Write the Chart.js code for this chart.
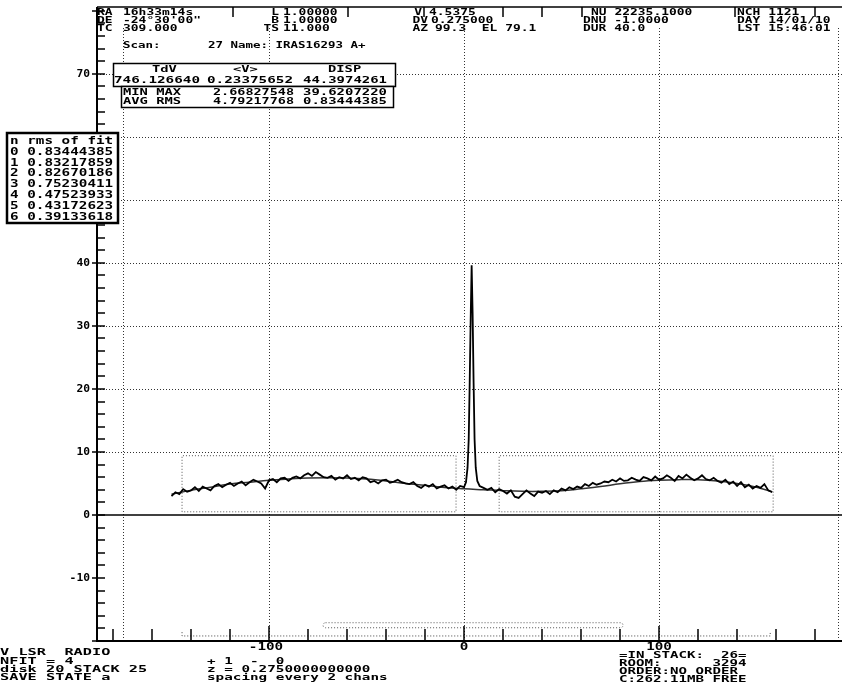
<!DOCTYPE html>
<html>
<head>
  <script src="https://cdn.jsdelivr.net/npm/chart.js@4.4.1/dist/chart.umd.min.js"></script>
  <style>
    body { margin: 0; background: #fff; }
  </style>
</head>
<body>
  <canvas id="myChart" width="842" height="695"></canvas>
  <script type="text/javascript">
    // spectrum, channels (km/s, K)
    var specVel = [-150, -148, -146, -144, -142, -140, -138, -136, -134, -132, -130, -128, -126, -124, -122, -120,
      -118, -116, -114, -112, -110, -108, -106, -104, -102, -100, -98, -96, -94, -92, -90, -88, -86, -84, -82, -80,
      -78, -76, -74, -72, -70, -68, -66, -64, -62, -60, -58, -56, -54, -52, -50, -48, -46, -44, -42, -40, -38, -36,
      -34, -32, -30, -28, -26, -24, -22, -20, -18, -16, -14, -12, -10, -8, -6, -4, -2, 0,
      1.0, 1.8, 2.4, 2.9, 3.4, 3.9, 4.4, 4.9, 5.4, 6.0, 6.8,
      8, 10, 12, 14, 16, 18, 20, 22, 24, 26, 28, 30, 32, 34, 36, 38, 40, 42, 44, 46, 48, 50, 52, 54, 56, 58, 60,
      62, 64, 66, 68, 70, 72, 74, 76, 78, 80, 82, 84, 86, 88, 90, 92, 94, 96, 98, 100, 102, 104, 106, 108, 110,
      112, 114, 116, 118, 120, 122, 124, 126, 128, 130, 132, 134, 136, 138, 140, 142, 144, 146, 148, 150, 152,
      154, 156, 158];
    var specTa = [3.0, 3.6, 3.3, 4.1, 3.7, 3.9, 4.4, 3.8, 4.5, 4.2, 3.9, 4.6, 4.9, 4.4, 4.8, 5.1,
      4.6, 5.0, 5.3, 4.7, 5.2, 5.6, 5.3, 5.0, 4.2, 5.5, 5.7, 5.2, 5.8, 5.9, 5.4, 5.9, 6.1, 5.8, 6.3, 6.6,
      6.2, 6.8, 6.4, 6.0, 5.9, 6.2, 5.6, 6.0, 5.8, 6.3, 5.7, 5.9, 5.5, 6.0, 5.8, 5.2, 5.4, 5.0, 5.5, 5.6, 5.1, 5.3,
      5.6, 5.2, 5.0, 4.9, 5.2, 4.6, 4.3, 4.8, 4.5, 4.9, 4.2, 4.5, 4.7, 4.2, 4.5, 4.0, 4.6, 4.4,
      5.2, 7.5, 12, 21, 31, 39.6, 32, 21, 12, 7.5, 5.4,
      4.6, 4.3, 4.0, 4.3, 3.6, 4.1, 3.8, 3.4, 3.9, 2.9, 2.7, 3.3, 3.9, 3.4, 3.0, 3.7, 3.5, 3.8, 3.3, 3.9, 3.6, 4.2,
      3.9, 4.4, 4.1, 4.5, 4.3, 4.9, 4.6, 5.1, 4.8, 5.0, 5.3, 5.2, 5.6, 5.3, 5.8, 5.4, 5.5, 5.9, 5.6, 5.4, 6.0,
      5.8, 5.5, 6.1, 5.6, 5.8, 6.3, 5.9, 5.4, 6.2, 5.8, 6.4, 5.9, 5.5, 5.8, 6.3, 5.7, 5.5, 5.9, 5.4, 5.1, 5.6,
      4.9, 5.3, 4.6, 5.2, 4.4, 4.8, 4.2, 4.6, 4.3, 4.9, 3.9, 3.6];

    // baseline fit
    var fitVel = [-150, -140, -130, -120, -110, -100, -90, -80, -70, -60, -50, -40, -30, -20, -10, 0, 10, 20, 30, 40,
      50, 60, 70, 80, 90, 100, 110, 120, 130, 140, 150, 158];
    var fitTa = [3.3, 3.9, 4.4, 4.9, 5.2, 5.5, 5.7, 5.85, 5.9, 5.85, 5.7, 5.4, 5.0, 4.7, 4.35, 4.15, 4.0, 3.85, 3.75, 3.75,
      3.85, 4.15, 4.5, 4.95, 5.3, 5.5, 5.6, 5.6, 5.4, 5.0, 4.4, 3.7];

    // baseline windows and channel bars
    var baseWinVel = [[-144.6, -4.1], [18, 158.5]];
    var baseWinTa = [0.5, 9.4];
    var chanBarVel = [-144.6, 157];
    var chanBarTa = -19.2;
    var viewBarVel = [-72.3, 81.5];
    var viewBarTa = [-17.9, -17.1];

    // axes
    var xMin = -188.2, xMax = 193.8, yMin = -20, yMax = 80.6;
    var xTickLabels = [-100, 0, 100];
    var yTickLabels = [-10, 0, 10, 20, 30, 40, 50, 60, 70];
    var gridVel = [-175, -100, 0, 100, 192];
    var gridTa = [10, 20, 30, 40, 50, 60, 70];

    // text blocks
    var fitN = [0, 1, 2, 3, 4, 5, 6];
    var fitRms = ['0.83444385', '0.83217859', '0.82670186', '0.75230411', '0.47523933', '0.43172623', '0.39133618'];

    function txt(ctx, s, x, top, cw, ch, align) {
      ctx.save();
      ctx.font = 'bold 20px "DejaVu Sans Mono"';
      var w = s.length * cw;
      if (align === 'right') x -= w;
      if (align === 'center') x -= w / 2;
      ctx.translate(x, top + ch);
      ctx.scale(cw / 12.04, ch / 14.58);
      ctx.fillStyle = '#000';
      ctx.textBaseline = 'alphabetic';
      ctx.fillText(s, 0, 0);
      ctx.restore();
    }

    var frame = {
      id: 'frame',
      beforeDraw: function(chart) {
        var ctx = chart.ctx;
        ctx.save();
        ctx.fillStyle = '#fff';
        ctx.fillRect(0, 0, chart.width, chart.height);
        ctx.restore();
      },
      beforeDatasetsDraw: function(chart) {
        var ctx = chart.ctx, a = chart.chartArea;
        var xs = chart.scales.x, ys = chart.scales.y;
        ctx.save();
        ctx.strokeStyle = '#333';
        ctx.lineWidth = 1;
        ctx.setLineDash([1, 2]);
        gridVel.forEach(function(v) {
          var px = Math.round(xs.getPixelForValue(v)) + 0.5;
          ctx.beginPath();
          ctx.moveTo(px, a.top + 21);
          ctx.lineTo(px, a.bottom);
          ctx.stroke();
        });
        gridTa.forEach(function(t) {
          var py = Math.round(ys.getPixelForValue(t)) + 0.5;
          ctx.beginPath();
          ctx.moveTo(a.left, py);
          ctx.lineTo(a.right, py);
          ctx.stroke();
        });
        // viewing bar (rounded)
        ctx.strokeStyle = '#555';
        var bx0 = xs.getPixelForValue(viewBarVel[0]), bx1 = xs.getPixelForValue(viewBarVel[1]);
        var by0 = ys.getPixelForValue(viewBarTa[1]), by1 = ys.getPixelForValue(viewBarTa[0]);
        ctx.beginPath();
        ctx.roundRect(bx0, by0, bx1 - bx0, by1 - by0, 3);
        ctx.stroke();
        ctx.setLineDash([]);
        // zero line
        ctx.strokeStyle = '#000';
        ctx.lineWidth = 1.5;
        var z = Math.round(ys.getPixelForValue(0));
        ctx.beginPath();
        ctx.moveTo(a.left, z);
        ctx.lineTo(a.right, z);
        ctx.stroke();
        ctx.restore();
      },
      afterDraw: function(chart) {
        var ctx = chart.ctx, a = chart.chartArea;
        var xs = chart.scales.x, ys = chart.scales.y;
        ctx.save();
        ctx.strokeStyle = '#000';
        // axes
        ctx.lineWidth = 2;
        ctx.beginPath();
        ctx.moveTo(a.left, a.top);
        ctx.lineTo(a.left, a.bottom);
        ctx.lineTo(a.right, a.bottom);
        ctx.stroke();
        ctx.lineWidth = 1.5;
        ctx.beginPath();
        ctx.moveTo(a.left, a.top);
        ctx.lineTo(a.right, a.top);
        ctx.stroke();
        // y ticks every 2
        ctx.lineWidth = 1.5;
        for (var t = -20; t <= 80; t += 2) {
          var py = Math.round(ys.getPixelForValue(t));
          ctx.beginPath();
          ctx.moveTo(a.left - (t % 10 === 0 ? 5 : 0), py);
          ctx.lineTo(a.left + 8, py);
          ctx.stroke();
        }
        // x ticks every 20
        for (var v = -180; v <= 180; v += 20) {
          var px = Math.round(xs.getPixelForValue(v));
          ctx.beginPath();
          ctx.moveTo(px, a.bottom);
          ctx.lineTo(px, a.bottom - (v % 100 === 0 ? 15 : 12));
          ctx.stroke();
        }
        // header separators
        [233, 348, 424, 503, 542, 582, 735, 815].forEach(function(x) {
          ctx.beginPath();
          ctx.moveTo(x, a.top);
          ctx.lineTo(x, a.top + 10);
          ctx.stroke();
        });
        // tick labels
        xTickLabels.forEach(function(v) {
          txt(ctx, String(v), xs.getPixelForValue(v) - (v < 0 ? 3 : 0), a.bottom + 2, 8.6, 7, 'center');
        });
        yTickLabels.forEach(function(t) {
          txt(ctx, String(t), 90, ys.getPixelForValue(t) - 3.5, 6.8, 7, 'right');
        });

        // header
        var cw = 7.8, ch = 6.3;
        txt(ctx, 'RA', 97, 9, cw, ch); txt(ctx, '16h33m14s', 123, 9, cw, ch);
        txt(ctx, 'DE', 97, 17, cw, ch); txt(ctx, '-24\u00b030\'00"', 123, 17, cw, ch);
        txt(ctx, 'TC', 97, 25, cw, ch); txt(ctx, '309.000', 123, 25, cw, ch);
        txt(ctx, 'L', 279, 9, cw, ch, 'right'); txt(ctx, '1.00000', 283, 9, cw, ch);
        txt(ctx, 'B', 279, 17, cw, ch, 'right'); txt(ctx, '1.00000', 283, 17, cw, ch);
        txt(ctx, 'TS', 279, 25, cw, ch, 'right'); txt(ctx, '11.000', 283, 25, cw, ch);
        txt(ctx, 'V', 422, 9, cw, ch, 'right'); txt(ctx, '4.5375', 429, 9, cw, ch);
        txt(ctx, 'DV', 428, 17, cw, ch, 'right'); txt(ctx, '0.275000', 431, 17, cw, ch);
        txt(ctx, 'AZ', 428, 25, cw, ch, 'right'); txt(ctx, '99.3  EL 79.1', 435, 25, cw, ch);
        txt(ctx, 'NU 22235.1000', 591, 9, cw, ch);
        txt(ctx, 'DNU -1.0000', 583, 17, cw, ch);
        txt(ctx, 'DUR 40.0', 583, 25, cw, ch);
        txt(ctx, 'NCH 1121', 737, 9, cw, ch);
        txt(ctx, 'DAY 14/01/10', 737, 17, cw, ch);
        txt(ctx, 'LST 15:46:01', 737, 25, cw, ch);
        txt(ctx, 'Scan:', 123, 41, 7.5, 6.5);
        txt(ctx, '27 Name: IRAS16293 A+', 208, 41, 7.5, 6.5);

        // TdV box
        ctx.fillStyle = '#fff';
        ctx.lineWidth = 1.5;
        ctx.fillRect(113, 63, 282, 23);
        ctx.strokeRect(113.5, 63.5, 282, 23);
        ctx.fillRect(121, 86, 272, 21);
        ctx.strokeRect(121.5, 86.5, 272, 21);
        txt(ctx, 'TdV', 152, 66, 8.3, 6.3);
        txt(ctx, '<V>', 233, 66, 8.3, 6.3);
        txt(ctx, 'DISP', 328, 66, 8.3, 6.3);
        txt(ctx, '746.126640', 114, 76, 8.6, 6.8);
        txt(ctx, '0.23375652', 207, 76, 8.6, 6.8);
        txt(ctx, '44.3974261', 303, 76, 8.4, 6.8);
        txt(ctx, 'MIN MAX', 123, 88, 8.3, 6.5);
        txt(ctx, '2.66827548', 213, 88, 8.1, 6.5);
        txt(ctx, '39.6207220', 303, 88, 8.4, 6.5);
        txt(ctx, 'AVG RMS', 123, 97, 8.3, 6.5);
        txt(ctx, '4.79217768', 213, 97, 8.1, 6.5);
        txt(ctx, '0.83444385', 303, 97, 8.4, 6.5);

        // rms of fit box
        ctx.fillStyle = '#fff';
        ctx.lineWidth = 2.5;
        ctx.fillRect(7, 133, 111, 90);
        ctx.strokeRect(7, 133, 111, 90);
        txt(ctx, 'n rms of fit', 10, 137, 8.6, 7.2);
        fitN.forEach(function(n, i) {
          txt(ctx, n + ' ' + fitRms[i], 10, 147.5 + i * 10.8, 8.6, 7.2);
        });

        // footer
        var fh = 6.6;
        txt(ctx, 'V LSR  RADIO', 0, 648, 9.2, fh);
        txt(ctx, 'NFIT = 4', 0, 657, 9.2, fh);
        txt(ctx, 'disk 20 STACK 25', 0, 665, 9.2, fh);
        txt(ctx, 'SAVE STATE a', 0, 673, 9.2, fh);
        txt(ctx, '+ 1  -  0', 207, 657, 8.6, fh);
        txt(ctx, 'z = 0.2750000000000', 207, 665, 8.6, fh);
        txt(ctx, 'spacing every 2 chans', 207, 673, 8.6, fh);
        txt(ctx, '=IN STACK:  26=', 619, 651, 8.5, fh);
        txt(ctx, 'ROOM:      3294', 619, 659, 8.5, fh);
        txt(ctx, 'ORDER:NO ORDER', 619, 667, 8.5, fh);
        txt(ctx, 'C:262.11MB FREE', 619, 675, 8.5, fh);
        ctx.restore();
      }
    };

    function boxPts(w) {
      return [{x: w[0], y: baseWinTa[0]}, {x: w[0], y: baseWinTa[1]}, {x: w[1], y: baseWinTa[1]},
        {x: w[1], y: baseWinTa[0]}, {x: w[0], y: baseWinTa[0]}];
    }

    var ctx = document.getElementById('myChart').getContext('2d');
    var chart = new Chart(ctx, {
      type: 'line',
      data: {
        datasets: [{
            label: 'spectrum',
            data: specVel.map(function(v, i) { return {x: v, y: specTa[i]}; }),
            borderColor: '#000',
            borderWidth: 1.8,
            tension: 0,
            fill: false
          },
          {
            label: 'fit',
            data: fitVel.map(function(v, i) { return {x: v, y: fitTa[i]}; }),
            borderColor: '#333',
            borderWidth: 1.5,
            tension: 0.4,
            fill: false
          },
          {
            label: 'window 1',
            data: boxPts(baseWinVel[0]),
            borderColor: '#555',
            borderWidth: 1,
            borderDash: [1, 2],
            fill: false
          },
          {
            label: 'window 2',
            data: boxPts(baseWinVel[1]),
            borderColor: '#555',
            borderWidth: 1,
            borderDash: [1, 2],
            fill: false
          },
          {
            label: 'channels',
            data: [{x: chanBarVel[0], y: chanBarTa + 0.6}, {x: chanBarVel[0], y: chanBarTa},
              {x: chanBarVel[1], y: chanBarTa}, {x: chanBarVel[1], y: chanBarTa + 0.6}],
            borderColor: '#444',
            borderWidth: 1,
            borderDash: [1, 2],
            fill: false
          }
        ]
      },
      options: {
        responsive: false,
        animation: false,
        devicePixelRatio: 1,
        layout: {
          padding: { left: 97, top: 7, right: 0, bottom: 54 }
        },
        elements: {
          point: { radius: 0 }
        },
        scales: {
          x: { type: 'linear', min: xMin, max: xMax, display: false },
          y: { type: 'linear', min: yMin, max: yMax, display: false }
        },
        plugins: {
          legend: { display: false },
          tooltip: { enabled: false }
        }
      },
      plugins: [frame]
    });
  </script>
</body>
</html>
